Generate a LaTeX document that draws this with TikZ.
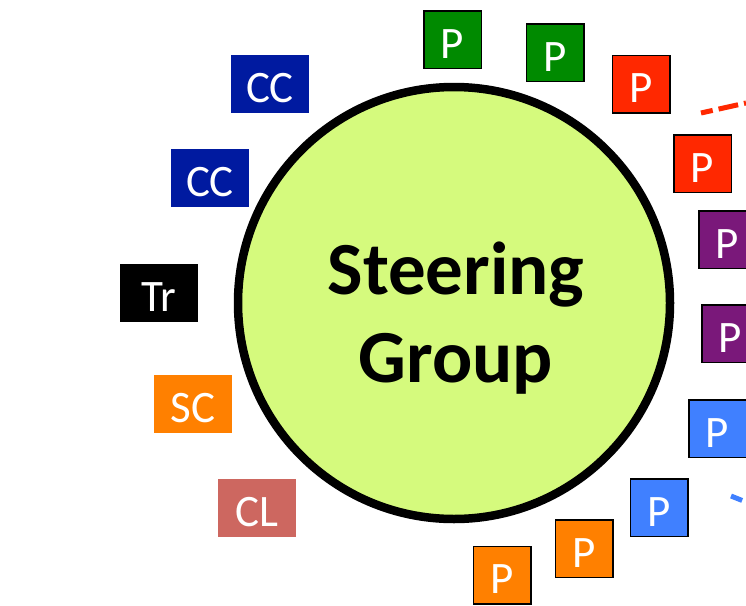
\documentclass[tikz,border=0pt]{standalone}
\usepackage{fontspec}
\setmainfont{Carlito}
\usepackage{xcolor}

\definecolor{sgfill}{RGB}{213,250,125}
\definecolor{pgreen}{RGB}{0,138,0}
\definecolor{pred}{RGB}{255,40,0}
\definecolor{ppurple}{RGB}{122,24,122}
\definecolor{pblue}{RGB}{64,128,255}
\definecolor{porange}{RGB}{255,128,0}
\definecolor{ccblue}{RGB}{0,26,160}
\definecolor{clred}{RGB}{205,103,96}

\begin{document}
\begin{tikzpicture}[x=1pt,y=-1pt,
    pbox/.style={draw=black,line width=1.5pt,text=white,inner sep=0pt,
        minimum width=57.5pt,minimum height=57.5pt,
        font=\fontsize{45}{45}\selectfont,text height=37pt,text depth=0pt},
    tagbox/.style={text=white,inner sep=0pt,
        minimum width=78pt,minimum height=58pt,
        font=\fontsize{45}{45}\selectfont,text height=37pt,text depth=0pt},
    link/.style={line width=5pt,dash pattern=on 20pt off 6pt,dash phase=8pt}]
                \useasboundingbox (0,0) rectangle (746,605);
                \draw[line width=8.5pt,fill=sgfill] (454,303) circle (216);
                \node[align=center,font=\bfseries\fontsize{75}{88}\selectfont]
                    (sg) at (456,318) {Steering\\Group};
                % members round the group
                \node[pbox,fill=pgreen] (pa) at (452.5,39.5) {P};
                \node[pbox,fill=pgreen] (pb) at (555,52.5) {P};
                \node[pbox,fill=pred] (pc) at (641,84) {P};
                \node[pbox,fill=pred] (pd) at (702.5,163.5) {P};
                \node[pbox,fill=ppurple] (pe) at (727.5,239.5) {P};
                \node[pbox,fill=ppurple] (pf) at (730.5,333.5) {P};
                \node[pbox,fill=pblue] (pg) at (717.5,428.5) {P};
                \node[pbox,fill=pblue] (ph) at (659,507.5) {P};
                \node[pbox,fill=porange] (pi) at (584,548.5) {P};
                \node[pbox,fill=porange] (pj) at (502,575) {P};
                \node[tagbox,fill=ccblue] (cca) at (270,84) {CC};
                \node[tagbox,fill=ccblue] (ccb) at (210,177.5) {CC};
                \node[tagbox,fill=black] (tr) at (159,292.5) {Tr};
                \node[tagbox,fill=porange] (sc) at (193,404) {SC};
                \node[tagbox,fill=clred] (cl) at (257,507.5) {CL};
                % links going off the page
                \coordinate (redin) at (701,113);
                \coordinate (redout) at (746,103);
                \coordinate (bluein) at (731,496);
                \coordinate (blueout) at (746,502);
                \draw[link,pred] (redin) -- (redout);
                \draw[link,pblue] (bluein) -- (blueout);
            \end{tikzpicture}
\end{document}
